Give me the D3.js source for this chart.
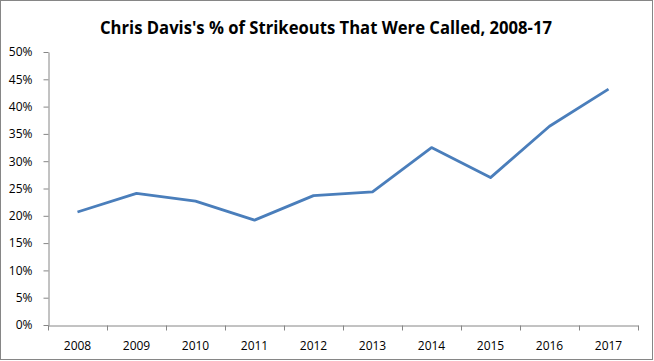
<!DOCTYPE html>
<html lang="en">
  <head>
    <script src="https://d3js.org/d3.v7.min.js"></script>
    <style>
      body {
        margin: 0;
      }

      text {
        font-family: "Open Sans", sans-serif;
        fill: #000;
      }

      .chart-title {
        font-weight: bold;
        font-size: 18px;
      }

      .axis text {
        font-size: 12px;
      }

      .axis line,
      .axis path {
        stroke: #868686;
      }
    </style>
  </head>

  <body>
    <svg id="linechart" width="654" height="361"></svg>
    <script>
      const years = ["2008", "2009", "2010", "2011", "2012", "2013", "2014", "2015", "2016", "2017"];
      const calledPct = [20.7, 24.1, 22.7, 19.2, 23.7, 24.4, 32.5, 27.0, 36.4, 43.2];
      const yTicks = [0, 5, 10, 15, 20, 25, 30, 35, 40, 45, 50];

      const svg = d3.select("svg#linechart");
      const width = svg.attr("width");
      const height = svg.attr("height");
      const margin = { top: 52, right: 16, bottom: 36, left: 48 };

      // outer border
      svg
        .append("rect")
        .attr("x", 0.5)
        .attr("y", 0.5)
        .attr("width", width - 2)
        .attr("height", height - 2)
        .attr("fill", "white")
        .attr("stroke", "#868686");

      svg
        .append("text")
        .attr("class", "chart-title")
        .attr("x", 326)
        .attr("y", 34)
        .attr("text-anchor", "middle")
        .attr("textLength", 452)
        .attr("lengthAdjust", "spacingAndGlyphs")
        .text("Chris Davis's % of Strikeouts That Were Called, 2008-17");

      const xScale = d3
        .scaleBand()
        .domain(years)
        .range([margin.left, width - margin.right]);

      const yScale = d3
        .scaleLinear()
        .domain([0, 50])
        .range([height - margin.bottom, margin.top]);

      // y-axis
      svg
        .append("g")
        .attr("class", "axis y-axis")
        .attr("transform", `translate(${margin.left + 0.5},0)`)
        .call(
          d3
            .axisLeft(yScale)
            .tickValues(yTicks)
            .tickSize(5)
            .tickSizeOuter(0)
            .tickPadding(11)
            .tickFormat((d) => d + "%")
        );

      // x-axis with ticks between categories
      const xAxisG = svg
        .append("g")
        .attr("class", "axis x-axis")
        .attr("transform", `translate(0,${height - margin.bottom + 0.5})`)
        .call(d3.axisBottom(xScale).tickSize(0).tickSizeOuter(0).tickPadding(16));

      const boundaries = years.map((y) => xScale(y)).concat([xScale(years[years.length - 1]) + xScale.bandwidth()]);
      xAxisG
        .selectAll("line.sep")
        .data(boundaries)
        .enter()
        .append("line")
        .attr("class", "sep")
        .attr("x1", (d) => Math.round(d) + 0.5)
        .attr("x2", (d) => Math.round(d) + 0.5)
        .attr("y1", 0)
        .attr("y2", 5);

      svg.selectAll(".axis .domain").attr("stroke", "#868686");

      const line = d3
        .line()
        .x((d, i) => xScale(years[i]) + xScale.bandwidth() / 2)
        .y((d) => yScale(d));

      svg
        .append("path")
        .datum(calledPct)
        .attr("fill", "none")
        .attr("stroke", "#4a7ebb")
        .attr("stroke-width", 2.8)
        .attr("stroke-linejoin", "round")
        .attr("d", line);
    </script>
  </body>
</html>
